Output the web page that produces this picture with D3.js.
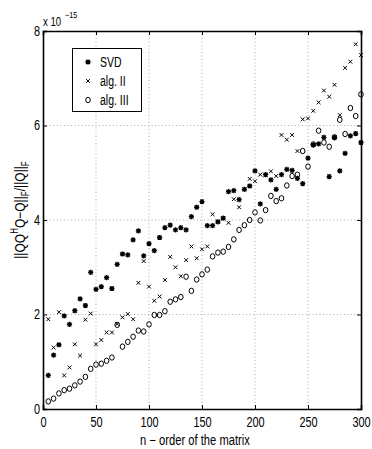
<!DOCTYPE html>
<html>
<head>
<meta charset="utf-8">
<script src="https://cdn.jsdelivr.net/npm/d3@7"></script>
<style>
  body { margin: 0; background: #fff; }
  text { font-family: "Liberation Sans", Arial, sans-serif; fill: #000; }
</style>
</head>
<body>
<svg id="chart" width="372" height="449"></svg>
<script>
// matrix order n
var orders = d3.range(5, 301, 5);

// values in units of 1e-15
var svd = [0.71, 1.14, 1.36, 1.97, 1.79, 2.08, 2.33, 2.19, 2.89, 2.53,
  2.59, 2.78, 2.55, 3.06, 3.28, 3.26, 3.58, 3.77, 3.24, 3.50,
  3.35, 3.63, 3.84, 3.89, 3.79, 3.84, 3.79, 4.07, 4.27, 4.39,
  3.88, 3.88, 3.96, 4.04, 4.60, 4.62, 4.43, 4.65, 4.72, 5.04,
  4.34, 4.96, 4.85, 4.65, 4.96, 5.07, 5.05, 4.88, 4.77, 5.31,
  5.59, 5.61, 5.75, 4.92, 5.75, 5.04, 5.41, 5.78, 5.83, 5.64];

var alg2 = [1.90, 1.30, 2.05, 0.71, 0.88, 1.37, 1.13, 1.89, 2.02, 1.37,
  1.46, 1.62, 1.62, 1.80, 1.94, 2.01, 1.90, 2.67, 3.13, 2.59,
  2.29, 2.38, 2.73, 3.22, 3.00, 2.81, 3.15, 3.44, 3.19, 3.38,
  3.44, 4.12, 3.97, 4.03, 3.94, 4.44, 4.27, 4.65, 4.87, 4.82,
  4.96, 4.95, 5.03, 4.93, 5.80, 5.70, 5.80, 5.46, 6.13, 6.15,
  6.31, 6.49, 6.74, 6.61, 6.86, 6.22, 7.22, 7.35, 7.72, 7.49];

var alg3 = [0.16, 0.22, 0.33, 0.40, 0.43, 0.50, 0.58, 0.68, 0.85, 0.94,
  0.96, 1.02, 1.09, 1.78, 1.32, 1.42, 1.53, 1.66, 1.64, 1.79,
  1.99, 1.99, 2.07, 2.27, 2.32, 2.37, 2.80, 2.50, 2.74, 2.85,
  2.95, 3.23, 3.31, 3.33, 3.43, 3.59, 3.79, 3.89, 4.00, 4.16,
  3.99, 4.21, 4.51, 4.40, 4.46, 4.73, 4.93, 4.96, 5.46, 5.13,
  5.60, 5.89, 5.64, 5.55, 5.75, 6.12, 5.82, 6.37, 6.20, 6.66];

var xTicks = [0, 50, 100, 150, 200, 250, 300];
var yTicks = [0, 2, 4, 6, 8];
var legendNames = ["SVD", "alg. II", "alg. III"];

var svg = d3.select("#chart");
var m = {left: 43, top: 31, right: 361, bottom: 409};

var x = d3.scaleLinear().domain([0, 300]).range([m.left, m.right]);
var y = d3.scaleLinear().domain([0, 8]).range([m.bottom, m.top]);

// squeeze text horizontally, like the narrow matlab helvetica
function condense(sel, f) {
  sel.each(function() {
    var w = this.getComputedTextLength();
    d3.select(this).attr("textLength", w * f).attr("lengthAdjust", "spacingAndGlyphs");
  });
}

// grid
svg.append("g").selectAll("line").data(xTicks.slice(1, -1)).join("line")
    .attr("x1", d => x(d)).attr("x2", d => x(d))
    .attr("y1", m.top).attr("y2", m.bottom)
    .attr("stroke", "#888").attr("stroke-width", 0.7).attr("stroke-dasharray", "1,2.5");
svg.append("g").selectAll("line").data(yTicks.slice(1, -1)).join("line")
    .attr("y1", d => y(d)).attr("y2", d => y(d))
    .attr("x1", m.left).attr("x2", m.right)
    .attr("stroke", "#888").attr("stroke-width", 0.7).attr("stroke-dasharray", "1,2.5");

// axes (ticks inside)
var xAxis = d3.axisBottom(x).tickValues(xTicks).tickSize(-4).tickPadding(8);
var yAxis = d3.axisLeft(y).tickValues(yTicks).tickSize(-4).tickPadding(3);
var gx = svg.append("g").attr("transform", "translate(0," + m.bottom + ")").call(xAxis);
var gy = svg.append("g").attr("transform", "translate(" + m.left + ",0)").call(yAxis);
var gxt = svg.append("g").attr("transform", "translate(0," + m.top + ")")
    .call(d3.axisTop(x).tickValues(xTicks).tickSize(-4).tickFormat(""));
var gyr = svg.append("g").attr("transform", "translate(" + m.right + ",0)")
    .call(d3.axisRight(y).tickValues(yTicks).tickSize(-4).tickFormat(""));
[gx, gy, gxt, gyr].forEach(g => {
  g.select(".domain").attr("stroke", "#000").attr("stroke-width", 1.6);
  g.selectAll(".tick line").attr("stroke", "#000").attr("stroke-width", 1);
  g.selectAll(".tick text").attr("font-size", 14)
    .attr("font-family", "'Liberation Sans', Arial, sans-serif");
});
gx.selectAll(".tick text").attr("transform", "scale(0.78,1)");
condense(gy.selectAll(".tick text"), 0.78);

// exponent
var ex1 = svg.append("text").attr("x", 43).attr("y", 26).attr("font-size", 12).text("x 10");
condense(ex1, 0.8);
var ex2 = svg.append("text").attr("x", 65).attr("y", 18).attr("font-size", 9).text("\u221215");
condense(ex2, 0.8);

// markers
var plot = svg.append("g");
function asterisk(g, cx, cy) {
  var r = 2.6;
  g.append("path")
    .attr("d", "M" + (cx - r) + "," + cy + "h" + 2 * r +
      "M" + cx + "," + (cy - r) + "v" + 2 * r +
      "M" + (cx - r * 0.75) + "," + (cy - r * 0.75) + "l" + 1.5 * r + "," + 1.5 * r +
      "M" + (cx - r * 0.75) + "," + (cy + r * 0.75) + "l" + 1.5 * r + "," + -1.5 * r)
    .attr("stroke", "#000").attr("stroke-width", 1.3).attr("fill", "none");
}
function cross(g, cx, cy) {
  var r = 1.9;
  g.append("path")
    .attr("d", "M" + (cx - r) + "," + (cy - r) + "l" + 2 * r + "," + 2 * r +
      "M" + (cx - r) + "," + (cy + r) + "l" + 2 * r + "," + -2 * r)
    .attr("stroke", "#000").attr("stroke-width", 1).attr("fill", "none");
}
function ring(g, cx, cy) {
  g.append("ellipse").attr("cx", cx).attr("cy", cy).attr("rx", 2.3).attr("ry", 2.7)
    .attr("stroke", "#000").attr("stroke-width", 1).attr("fill", "none");
}

orders.forEach((n, i) => {
  asterisk(plot, x(n), y(svd[i]));
  cross(plot, x(n), y(alg2[i]));
  ring(plot, x(n), y(alg3[i]));
});

// legend
var lg = svg.append("g");
lg.append("rect").attr("x", 72.5).attr("y", 48.5).attr("width", 69).attr("height", 63)
  .attr("fill", "#fff").attr("stroke", "#000").attr("stroke-width", 1);
var markerFns = [asterisk, cross, ring];
legendNames.forEach((name, i) => {
  var ly = 62 + i * 19;
  markerFns[i](lg, 88, ly);
  var t = lg.append("text").attr("x", 100).attr("y", ly + 5).attr("font-size", 14).text(name);
  condense(t, 0.75);
});

// axis titles
var xl = svg.append("text").attr("x", 140).attr("y", 445)
  .attr("font-size", 14).text("n \u2212 order of the matrix");
condense(xl, 0.8);

var yl = svg.append("text").attr("transform", "translate(25,210) rotate(-90)")
  .attr("text-anchor", "middle").attr("font-size", 15);
yl.append("tspan").text("||QQ");
yl.append("tspan").attr("dy", -7).attr("font-size", 10).text("H");
yl.append("tspan").attr("dy", 7).text("Q\u2212Q||");
yl.append("tspan").attr("dy", 4).attr("font-size", 10).text("F");
yl.append("tspan").attr("dy", -4).text("/||Q||");
yl.append("tspan").attr("dy", 4).attr("font-size", 10).text("F");
condense(yl, 0.8);
</script>
</body>
</html>
